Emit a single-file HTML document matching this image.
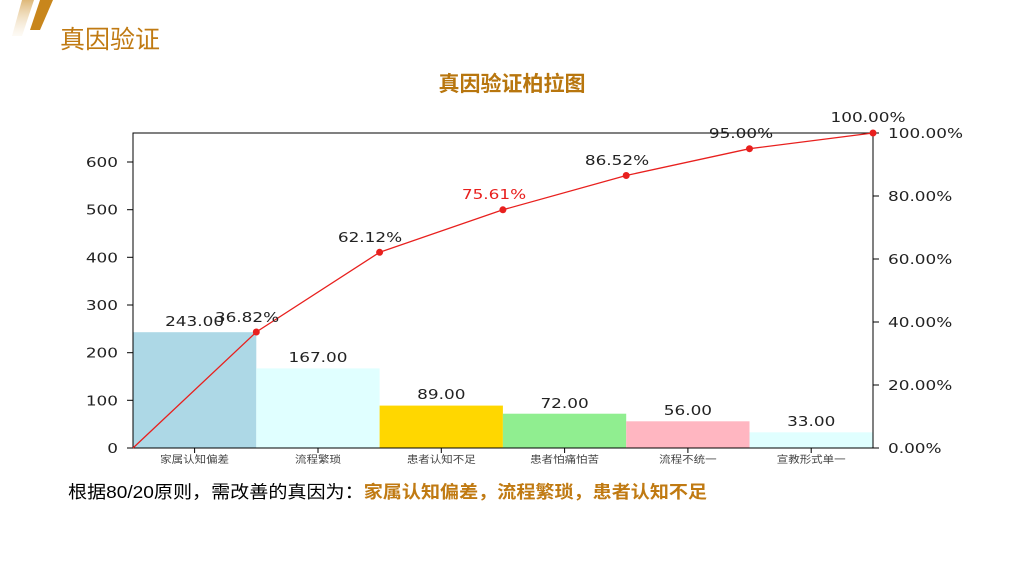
<!DOCTYPE html>
<html><head><meta charset="utf-8"><style>
html,body{margin:0;padding:0;background:#fff;width:1024px;height:576px;overflow:hidden}
.t{position:absolute;font-family:"Liberation Sans","Noto Sans CJK SC",sans-serif;white-space:nowrap}
svg text{transform-box:fill-box;transform-origin:center;transform:scaleX(1.25)}
.e text{transform-origin:right center}
.s text{transform-origin:left center}
.c text{transform:scaleX(1.15)}
</style></head><body>
<svg width="1024" height="576" style="position:absolute;left:0;top:0">
<defs><linearGradient id="g" x1="0" y1="0" x2="0" y2="1"><stop offset="0" stop-color="#c8891f"/><stop offset="1" stop-color="#f3e3c8" stop-opacity="0.3"/></linearGradient></defs>
<polygon points="22,0 34,0 22,36 12,36" fill="url(#g)" opacity="0.6"/>
<polygon points="40,0 53,0 40,30 30,30" fill="#c8861c"/>
<g font-family="DejaVu Sans, sans-serif" font-size="13.5" fill="#222">
<rect x="133" y="332.2" width="123.3" height="115.8" fill="#add8e6"/>
<rect x="256.3" y="368.4" width="123.3" height="79.6" fill="#e0ffff"/>
<rect x="379.6" y="405.6" width="123.3" height="42.4" fill="#ffd700"/>
<rect x="502.9" y="413.7" width="123.3" height="34.3" fill="#90ee90"/>
<rect x="626.2" y="421.3" width="123.3" height="26.7" fill="#ffb6c1"/>
<rect x="749.5" y="432.3" width="123.5" height="15.7" fill="#e0ffff"/>
<path d="M133,133V448H873V133Z" fill="none" stroke="#000" stroke-width="1"/>
<g stroke="#000"><line x1="127" x2="133" y1="448" y2="448"/><line x1="127" x2="133" y1="400.3" y2="400.3"/><line x1="127" x2="133" y1="352.7" y2="352.7"/><line x1="127" x2="133" y1="305" y2="305"/><line x1="127" x2="133" y1="257.3" y2="257.3"/><line x1="127" x2="133" y1="209.7" y2="209.7"/><line x1="127" x2="133" y1="162" y2="162"/>
<line x1="873" x2="879" y1="448" y2="448"/><line x1="873" x2="879" y1="385" y2="385"/><line x1="873" x2="879" y1="322" y2="322"/><line x1="873" x2="879" y1="259" y2="259"/><line x1="873" x2="879" y1="196" y2="196"/><line x1="873" x2="879" y1="133" y2="133"/>
<line x1="194.6" x2="194.6" y1="448" y2="453"/><line x1="318" x2="318" y1="448" y2="453"/><line x1="441.3" x2="441.3" y1="448" y2="453"/><line x1="564.6" x2="564.6" y1="448" y2="453"/><line x1="687.9" x2="687.9" y1="448" y2="453"/><line x1="811.2" x2="811.2" y1="448" y2="453"/></g>
<g class="e" text-anchor="end"><text x="118" y="453">0</text><text x="118" y="405.3">100</text><text x="118" y="357.7">200</text><text x="118" y="310">300</text><text x="118" y="262.3">400</text><text x="118" y="214.7">500</text><text x="118" y="167">600</text></g>
<g class="s"><text x="888" y="453">0.00%</text><text x="888" y="390">20.00%</text><text x="888" y="327">40.00%</text><text x="888" y="264">60.00%</text><text x="888" y="201">80.00%</text><text x="888" y="138">100.00%</text></g>
<g class="c" text-anchor="middle" font-family="Liberation Sans, Noto Sans CJK SC, sans-serif" font-size="10" fill="#444"><text x="194.6" y="463">家属认知偏差</text><text x="318" y="463">流程繁琐</text><text x="441.3" y="463">患者认知不足</text><text x="564.6" y="463">患者怕痛怕苦</text><text x="687.9" y="463">流程不统一</text><text x="811.2" y="463">宣教形式单一</text></g>
<g text-anchor="middle"><text x="194.6" y="326">243.00</text><text x="318" y="362">167.00</text><text x="441.3" y="399">89.00</text><text x="564.6" y="408">72.00</text><text x="687.9" y="415">56.00</text><text x="811.2" y="426">33.00</text></g>
<polyline points="133,448 256.3,332 379.6,252.3 502.9,209.8 626.2,175.5 749.5,148.7 873,133" fill="none" stroke="#e8201e" stroke-width="1.3"/>
<g fill="#e8201e"><circle cx="256.3" cy="332" r="3.5"/><circle cx="379.6" cy="252.3" r="3.5"/><circle cx="502.9" cy="209.8" r="3.5"/><circle cx="626.2" cy="175.5" r="3.5"/><circle cx="749.5" cy="148.7" r="3.5"/><circle cx="873" cy="133" r="3.5"/></g>
<g text-anchor="middle"><text x="247" y="322">36.82%</text><text x="370" y="242">62.12%</text><text x="494" y="199" fill="#e8201e">75.61%</text><text x="617" y="165">86.52%</text><text x="741" y="138">95.00%</text><text x="868" y="122">100.00%</text></g>
</g>
</svg>
<div class="t" style="left:60px;top:20px;font-size:25px;color:#c07a12">真因验证</div>
<div class="t" style="left:0;width:1024px;top:68px;text-align:center;font-size:21px;font-weight:bold;color:#b8760e">真因验证柏拉图</div>
<div class="t" style="left:68px;top:479px;font-size:17.5px;color:#000;transform:scaleX(1.09);transform-origin:left top">根据80/20原则，需改善的真因为：<b style="color:#c07a12">家属认知偏差，流程繁琐，患者认知不足</b></div>
</body></html>
